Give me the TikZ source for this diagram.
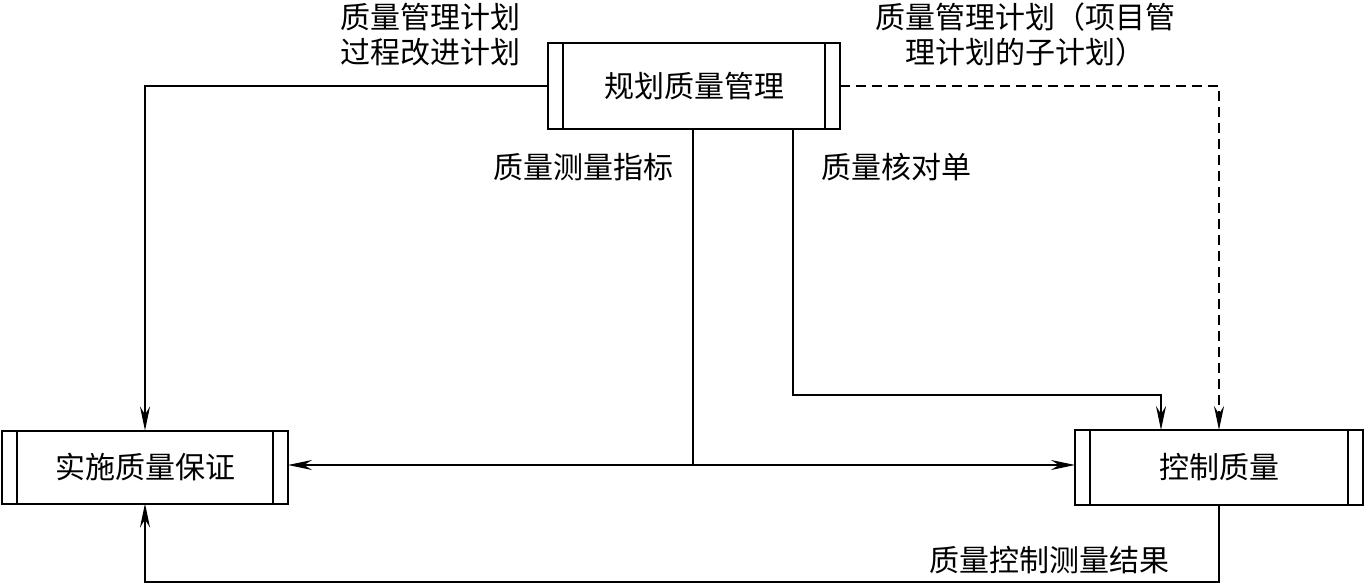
\documentclass[tikz,border=0pt]{standalone}
\usepackage{fontspec}
\setmainfont{Noto Sans CJK SC}
\usetikzlibrary{arrows.meta}
\tikzset{
  proc/.style={draw, line width=2pt, rectangle, inner sep=0pt, outer sep=0pt, font=\fontsize{30}{34}\selectfont},
  lbl/.style={inner sep=0pt, font=\fontsize{30}{35}\selectfont, align=center},
  conn/.style={line width=1.8pt},
  tip/.style={-{Stealth[length=24pt,width=10pt,inset=8pt]}},
  arr/.style={conn, tip},
  dashline/.style={conn, dash pattern=on 10pt off 6pt}
}
\newcommand{\sidebars}[1]{%
  \draw[line width=2pt] ([xshift=15pt]#1.north west) -- ([xshift=15pt]#1.south west);
  \draw[line width=2pt] ([xshift=-15pt]#1.north east) -- ([xshift=-15pt]#1.south east);
}
\begin{document}
\begin{tikzpicture}[x=1pt,y=-1pt]
\useasboundingbox (0,0) rectangle (1364,585);
% process boxes
\node[proc, minimum width=292pt, minimum height=86pt] (top) at (694,86) {规划质量管理};
\node[proc, minimum width=286pt, minimum height=73pt] (qa) at (145,467) {实施质量保证};
\node[proc, minimum width=288pt, minimum height=75pt] (qc) at (1219,467.5) {控制质量};
\sidebars{top}
\sidebars{qa}
\sidebars{qc}
% helper coordinates
\coordinate (k1) at (793,395);
\coordinate (j) at (693,465);
\coordinate (b) at (1219,582);
% connectors
\draw[arr] (top.west) -| (qa.north);
\draw[dashline, tip] (top.east) -| (qc.north);
\draw[arr] (k1 |- top.south) -- (k1) -| ([xshift=-58pt]qc.north);
\draw[conn] (j |- top.south) -- (j);
\draw[arr] (j) -- (j -| qa.east);
\draw[arr] (j) -- (j -| qc.west);
\draw[arr] (qc.south) -- (b) -- (b -| qa.south) -- (qa.south);
% labels
\node[lbl, anchor=east] (l1) at (521,35) {质量管理计划\\过程改进计划};
\node[lbl] (l2) at (1025,35) {质量管理计划（项目管\\理计划的子计划）};
\node[lbl] (l3) at (583,167) {质量测量指标};
\node[lbl] (l4) at (896,167) {质量核对单};
\node[lbl] (l5) at (1049,560) {质量控制测量结果};
\end{tikzpicture}
\end{document}
